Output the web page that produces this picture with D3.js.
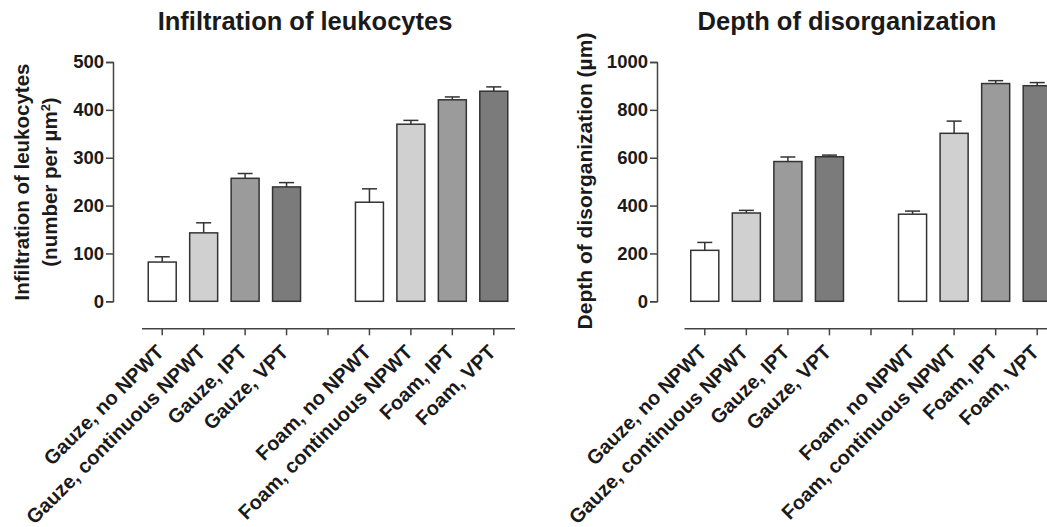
<!DOCTYPE html>
<html>
<head>
<meta charset="utf-8">
<script src="https://cdn.jsdelivr.net/npm/d3@7.9.0/dist/d3.min.js"></script>
<style>
  html, body { margin: 0; padding: 0; background: #fff; }
  svg { display: block; font-family: "Liberation Sans", Arial, sans-serif; font-weight: bold; }
</style>
</head>
<body>
<svg id="chart" width="1047" height="527"></svg>
<script>
// treatment groups (a blank slot sits between gauze and foam)
const categories = [
  'Gauze, no NPWT', 'Gauze, continuous NPWT', 'Gauze, IPT', 'Gauze, VPT',
  'Foam, no NPWT', 'Foam, continuous NPWT', 'Foam, IPT', 'Foam, VPT'
];
const barColors = ['#ffffff', '#d0d0d0', '#9b9b9b', '#7b7b7b',
                   '#ffffff', '#d0d0d0', '#9b9b9b', '#7b7b7b'];

// left panel: infiltration of leukocytes (mean, SEM)
const leukocyteMeans = [82, 143, 257, 239, 207, 370, 421, 439];
const leukocyteSem   = [11, 21, 10, 9, 28, 8, 6, 9];
const leukocyteTicks = [0, 100, 200, 300, 400, 500];

// right panel: depth of disorganization (mean, SEM)
const depthMeans = [213, 369, 584, 604, 364, 702, 910, 901];
const depthSem   = [33, 11, 19, 7, 13, 51, 12, 13];
const depthTicks = [0, 200, 400, 600, 800, 1000];

const svg = d3.select('#chart');
const axisColor = '#444';

function drawPanel(opts) {
  const g = svg.append('g');
  const domain = [...categories.slice(0, 4), ' ', ...categories.slice(4)];

  const x = d3.scaleBand()
    .domain(domain)
    .range([opts.x0, opts.x1])
    .paddingInner(0.325)
    .paddingOuter(0.1625);

  const y = d3.scaleLinear()
    .domain([0, opts.yMax])
    .range([opts.yBottom, opts.yTop]);

  // title
  g.append('text')
    .attr('x', opts.titleX)
    .attr('y', 30)
    .attr('text-anchor', 'middle')
    .attr('font-size', 25.5)
    .attr('fill', '#1a1a1a')
    .text(opts.title);

  // y axis
  const yAxis = g.append('g')
    .attr('transform', `translate(${opts.axisX},0)`)
    .call(d3.axisLeft(y).tickValues(opts.ticks).tickFormat(d3.format('d'))
      .tickSize(7).tickPadding(2));
  yAxis.select('.domain').attr('stroke', axisColor).attr('stroke-width', 1.5);
  yAxis.selectAll('.tick line').attr('stroke', axisColor).attr('stroke-width', 1.5);
  yAxis.selectAll('.tick text')
    .attr('font-size', 18.5)
    .attr('font-family', '"Liberation Sans", Arial, sans-serif')
    .attr('font-weight', 'bold')
    .attr('fill', '#1a1a1a');

  // y label
  const yl = g.append('text')
    .attr('transform', `translate(${opts.labelX},${opts.labelY}) rotate(-90)`)
    .attr('text-anchor', 'middle')
    .attr('font-size', opts.labelSize)
    .attr('fill', '#1a1a1a');
  opts.label(yl);

  // x axis, detached below the bars
  const xAxis = g.append('g')
    .attr('transform', `translate(0,${opts.xAxisY})`)
    .call(d3.axisBottom(x).tickSize(7).tickSizeOuter(0).tickFormat(() => ''));
  xAxis.select('.domain').attr('stroke', axisColor).attr('stroke-width', 1.5);
  xAxis.selectAll('.tick line').attr('stroke', axisColor).attr('stroke-width', 1.5);

  g.selectAll('.xlab')
    .data(categories)
    .join('text')
    .attr('class', 'xlab')
    .attr('text-anchor', 'end')
    .attr('font-size', 20)
    .attr('fill', '#1a1a1a')
    .attr('transform', d => {
      const cx = x(d) + x.bandwidth() / 2;
      return `translate(${cx + 3},${opts.xAxisY + 25}) rotate(-45)`;
    })
    .text(d => d);

  // error bars (upper only)
  const capW = 15;
  categories.forEach((c, i) => {
    const cx = x(c) + x.bandwidth() / 2;
    const top = y(opts.means[i] + opts.sem[i]);
    g.append('line')
      .attr('x1', cx).attr('x2', cx)
      .attr('y1', y(opts.means[i])).attr('y2', top)
      .attr('stroke', '#333').attr('stroke-width', 1.5);
    g.append('line')
      .attr('x1', cx - capW / 2).attr('x2', cx + capW / 2)
      .attr('y1', top).attr('y2', top)
      .attr('stroke', '#333').attr('stroke-width', 1.5);
  });

  // bars
  g.selectAll('.bar')
    .data(categories)
    .join('rect')
    .attr('class', 'bar')
    .attr('x', d => x(d))
    .attr('width', x.bandwidth())
    .attr('y', (d, i) => y(opts.means[i]))
    .attr('height', (d, i) => y(0) - y(opts.means[i]))
    .attr('fill', (d, i) => barColors[i])
    .attr('stroke', '#333')
    .attr('stroke-width', 1.5);
}

drawPanel({
  title: 'Infiltration of leukocytes',
  titleX: 305,
  means: leukocyteMeans,
  sem: leukocyteSem,
  ticks: leukocyteTicks,
  yMax: 500,
  axisX: 113,
  yTop: 62,
  yBottom: 301.3,
  x0: 141.5,
  x1: 514.5,
  xAxisY: 328.3,
  labelX: 29,
  labelY: 182,
  labelSize: 20.5,
  label: t => {
    t.append('tspan').attr('x', 0).attr('dy', 0).text('Infiltration of leukocytes');
    const l2 = t.append('tspan').attr('x', 0).attr('dy', 28).text('(number per µm');
    l2.append('tspan').attr('baseline-shift', 'super').attr('font-size', 13).text('2');
    t.append('tspan').text(')');
  }
});

drawPanel({
  title: 'Depth of disorganization',
  titleX: 847,
  means: depthMeans,
  sem: depthSem,
  ticks: depthTicks,
  yMax: 1000,
  axisX: 657,
  yTop: 62,
  yBottom: 301.3,
  x0: 684,
  x1: 1058,
  xAxisY: 328.3,
  labelX: 592,
  labelY: 181,
  labelSize: 21,
  label: t => {
    t.text('Depth of disorganization (µm)');
  }
});
</script>
</body>
</html>
